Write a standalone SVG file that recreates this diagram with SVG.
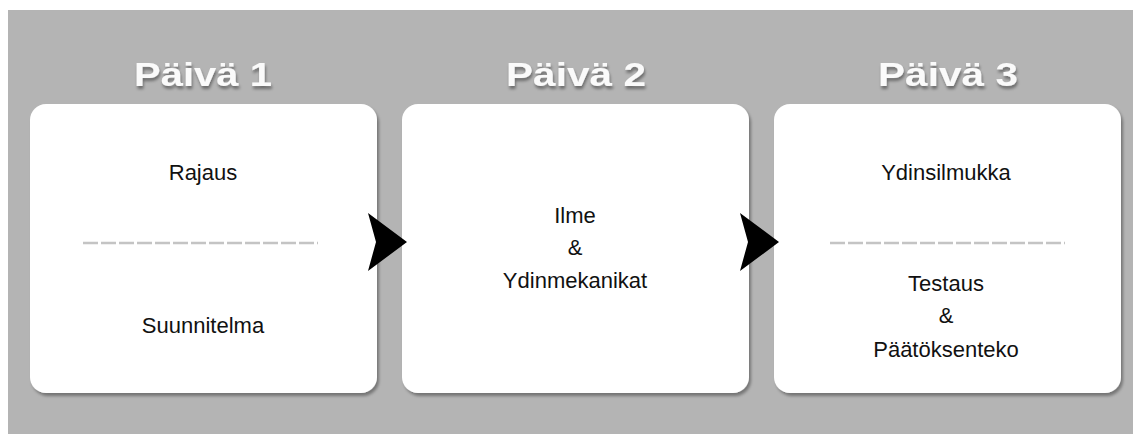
<svg xmlns="http://www.w3.org/2000/svg" width="1133" height="434" viewBox="0 0 1133 434">
  <defs>
    <filter id="cardShadow" x="-10%" y="-10%" width="120%" height="120%">
      <feGaussianBlur in="SourceAlpha" stdDeviation="1.5"/>
      <feOffset dx="2" dy="3" result="b"/>
      <feFlood flood-color="#000" flood-opacity="0.35"/>
      <feComposite in2="b" operator="in"/>
      <feMerge><feMergeNode/><feMergeNode in="SourceGraphic"/></feMerge>
    </filter>
    <filter id="titleShadow" x="-20%" y="-30%" width="140%" height="170%">
      <feGaussianBlur in="SourceAlpha" stdDeviation="1.6"/>
      <feOffset dx="1" dy="3" result="b"/>
      <feFlood flood-color="#000" flood-opacity="0.4"/>
      <feComposite in2="b" operator="in"/>
      <feMerge><feMergeNode/><feMergeNode in="SourceGraphic"/></feMerge>
    </filter>
    <filter id="soft"><feGaussianBlur stdDeviation="0.5"/></filter>
  </defs>
  <style>
    .card { fill: #ffffff; filter: url(#cardShadow); }
    .title { font-family: "Liberation Sans", Arial, sans-serif; font-weight: bold; font-size: 33px; fill: #fafafa; text-anchor: middle; filter: url(#titleShadow); }
    .label { font-family: "Liberation Sans", Arial, sans-serif; font-size: 22px; fill: #111111; text-anchor: middle; }
    .divider { stroke: #c4c4c4; stroke-width: 2.5; stroke-dasharray: 15 3; fill: none; }
    .arrow { fill: #000000; filter: url(#soft); }
  </style>

  <rect x="0" y="0" width="1133" height="434" fill="#ffffff"/>
  <rect x="8" y="10" width="1125" height="424" fill="#b4b4b4"/>

  <g id="day1">
    <text class="title" x="203" y="86" textLength="138" lengthAdjust="spacingAndGlyphs">Päivä 1</text>
    <rect class="card" x="30" y="104" width="347" height="289" rx="16"/>
    <text class="label" x="203" y="180">Rajaus</text>
    <line class="divider" x1="83" y1="243" x2="318" y2="243"/>
    <text class="label" x="203" y="333">Suunnitelma</text>
  </g>

  <g id="day2">
    <text class="title" x="576" y="86" textLength="140" lengthAdjust="spacingAndGlyphs">Päivä 2</text>
    <rect class="card" x="402" y="104" width="347" height="289" rx="16"/>
    <text class="label" x="575" y="223">Ilme</text>
    <text class="label" x="575" y="255">&amp;</text>
    <text class="label" x="575" y="288">Ydinmekanikat</text>
  </g>

  <g id="day3">
    <text class="title" x="948" y="86" textLength="140" lengthAdjust="spacingAndGlyphs">Päivä 3</text>
    <rect class="card" x="774" y="104" width="347" height="289" rx="16"/>
    <text class="label" x="946" y="180">Ydinsilmukka</text>
    <line class="divider" x1="830" y1="243" x2="1065" y2="243"/>
    <text class="label" x="946" y="291">Testaus</text>
    <text class="label" x="946" y="323">&amp;</text>
    <text class="label" x="946" y="357">Päätöksenteko</text>
  </g>

  <g id="connectors">
    <path class="arrow" d="M368,213 L407,242 L368,271 L376,242 Z"/>
    <path class="arrow" d="M740,213 L779,242 L740,271 L748,242 Z"/>
  </g>
</svg>
